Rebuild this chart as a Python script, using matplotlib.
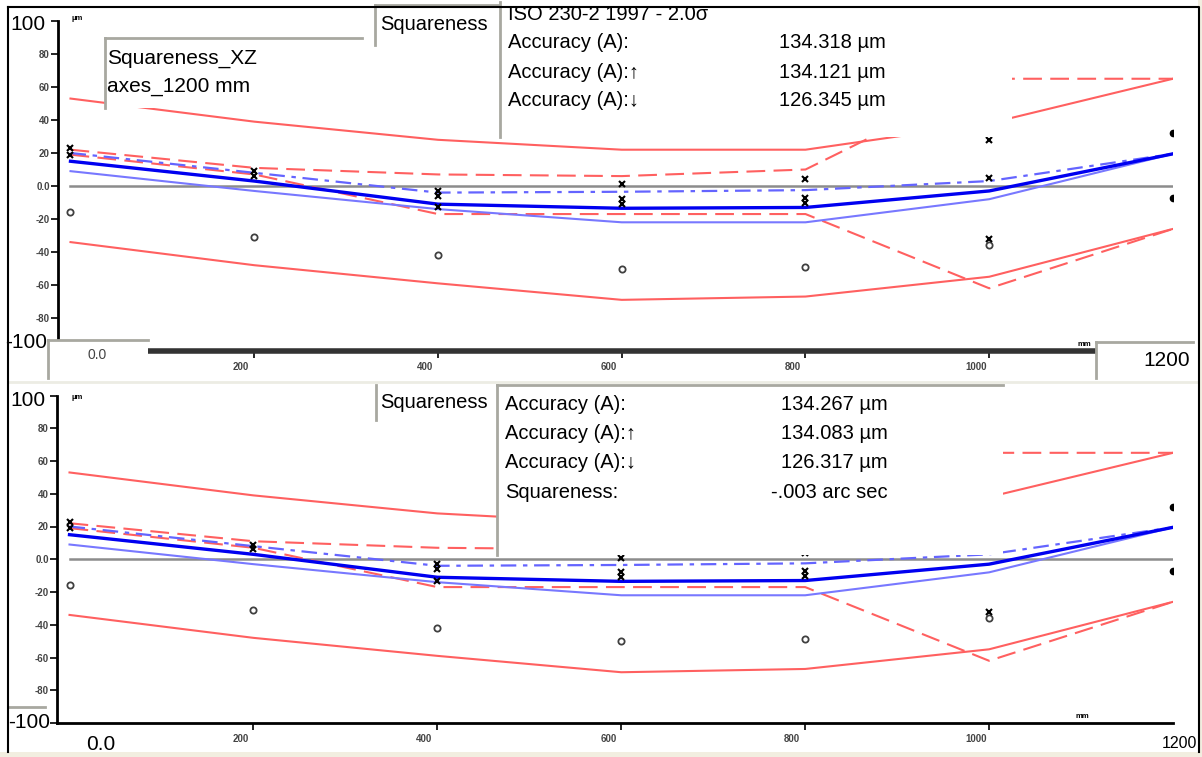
import matplotlib
matplotlib.use("Agg")
import matplotlib.pyplot as plt
import matplotlib.transforms as mtransforms
from matplotlib.patches import Rectangle
from matplotlib.lines import Line2D

plt.rcParams['font.family'] = ['Liberation Sans', 'DejaVu Sans']

# ----------------------
# data (µm against position in mm)
# ----------------------
positions = [0, 200, 400, 600, 800, 1000, 1200]

upper_limit = [53, 39, 28, 22, 22, 38, 65]          # red solid, top
lower_limit = [-34, -48, -59, -69, -67, -55, -26]   # red solid, bottom
upper_dash = [22, 11, 7, 6, 10, 65, 65]             # red dashed, top
lower_dash = [19, 7, -17, -17, -17, -62, -26]       # red dashed, bottom
mean_line = [15, 3, -11, -13.5, -13, -3, 19.5]     # blue thick
mean_low = [9, -3, -14, -22, -22, -8, 19.5]         # light blue
mean_high = [20, 8, -4, -3.5, -2.5, 3, 19.5]        # blue dash-dot

run_x = [0, 0, 200, 200, 400, 400, 400, 600, 600, 600, 800, 800, 800, 1000, 1000, 1000]
run_y = [19, 23, 6, 9, -3, -6, -13, 1, -8, -11, 4, -7, -10, 28, 5, -32]
circ_x = [0, 200, 400, 600, 800, 1000]
circ_y = [-16, -31, -42, -50, -49, -36]
end_x = [1200, 1200]
end_y = [32, -7]

tick_pos = [200, 400, 600, 800, 1000]
tick_lbl = ["200", "400", "600", "800", "1000"]
ytick_pos = [-100, -80, -60, -40, -20, 0, 20, 40, 60, 80, 100]
ytick_lbl = ["", "-80", "-60", "-40", "-20", "0.0", "20", "40", "60", "80", ""]

top_info = ["ISO 230-2 1997 - 2.0\u03c3", "Accuracy (A):", "Accuracy (A):\u2191", "Accuracy (A):\u2193"]
top_vals = ["", "134.318 \u00b5m", "134.121 \u00b5m", "126.345 \u00b5m"]
bot_info = ["Accuracy (A):", "Accuracy (A):\u2191", "Accuracy (A):\u2193", "Squareness:"]
bot_vals = ["134.267 \u00b5m", "134.083 \u00b5m", "126.317 \u00b5m", "-.003 arc sec"]

W, H = 1202, 757
fig = plt.figure(figsize=(W / 100, H / 100), dpi=100)


def fx(x):
    return x / W


def fy(y):
    return 1 - y / H


def ftext(x, y, s, size, **kw):
    kw.setdefault("va", "center")
    fig.text(fx(x), fy(y), s, fontsize=size, zorder=8, **kw)


def box(x0, y0, x1, y1, top=True, left=True):
    fig.add_artist(Rectangle((fx(x0), fy(y1)), (x1 - x0) / W, (y1 - y0) / H,
                             transform=fig.transFigure, facecolor="white",
                             edgecolor="none", zorder=5))
    if top:
        fig.add_artist(Line2D([fx(x0), fx(x1)], [fy(y0), fy(y0)], color="#a8a8a0", lw=2, zorder=6))
    if left:
        fig.add_artist(Line2D([fx(x0), fx(x0)], [fy(y0), fy(y1)], color="#a8a8a0", lw=2, zorder=6))


def draw_panel(left, top, right, bottom, axis_lw, axis_col):
    ax = fig.add_axes([fx(left), fy(bottom), (right - left) / W, (bottom - top) / H])
    ax.set_xlim(-13.6, 1200)
    ax.set_ylim(-100, 100)
    ax.patch.set_alpha(0)
    for s in ["top", "right"]:
        ax.spines[s].set_visible(False)
    ax.spines["bottom"].set_linewidth(axis_lw)
    ax.spines["bottom"].set_color(axis_col)
    ax.spines["left"].set_linewidth(2)

    ax.plot(positions, [0] * len(positions), color="#8c8c8c", lw=1.8)
    ax.plot(positions, upper_limit, color="#ff6060", lw=1.5)
    ax.plot(positions, lower_limit, color="#ff6060", lw=1.5)
    ax.plot(positions, upper_dash, color="#ff6060", lw=1.5, dashes=(9, 4))
    ax.plot(positions, lower_dash, color="#ff6060", lw=1.5, dashes=(9, 4))
    ax.plot(positions, mean_low, color="#7878ff", lw=1.5)
    ax.plot(positions, mean_high, color="#6464ff", lw=1.6, dashes=(7, 3, 2, 3))
    ax.plot(positions, mean_line, color="#0000f0", lw=2.4)

    ax.plot(circ_x, circ_y, "o", ms=4.5, mfc="none", mec="#404040", mew=1.3)
    ax.plot(run_x, run_y, "x", ms=4, color="black", mew=1.5)
    ax.plot(end_x, end_y, "o", ms=4.5, color="black")

    ax.set_xticks(tick_pos)
    ax.set_xticklabels(tick_lbl, fontsize=7, color="#444444", weight="bold")
    ax.set_yticks(ytick_pos)
    ax.set_yticklabels(ytick_lbl, fontsize=7, color="#444444", weight="bold")
    ax.tick_params(axis="x", length=5, width=1.2, pad=3)
    ax.tick_params(axis="y", length=5, width=1.2, pad=1)
    offset = mtransforms.ScaledTranslation(-0.13, 0, fig.dpi_scale_trans)
    for lab in ax.get_xticklabels():
        lab.set_transform(lab.get_transform() + offset)
    return ax


# ----------------------
# top panel
# ----------------------
ax1 = draw_panel(58, 21, 1173, 351, 4, "#333333")
ftext(10, 25, "100", 15)
ftext(5, 343, "-100", 15)
ftext(72, 18, "\u00b5m", 5.5, weight="bold")
ftext(1078, 344, "mm", 5.5, weight="bold")

box(105, 38, 362, 108)
ftext(107, 58, "Squareness_XZ", 15)
ftext(107, 86, "axes_1200 mm", 15)

box(375, 5, 498, 45)
ftext(380, 25, "Squareness", 14.5)

box(500, 2, 1012, 137, top=False)
for i, (t, v) in enumerate(zip(top_info, top_vals)):
    ftext(508, 14 + 29 * i, t, 14.5)
    if v:
        ftext(886, 14 + 29 * i, v, 14.5, ha="right")

box(48, 340, 148, 378)
ftext(97, 355, "0.0", 10, ha="center", color="#444444")
box(1096, 342, 1193, 378)
ftext(1190, 360, "1200", 15, ha="right")

fig.add_artist(Line2D([fx(8), fx(1198)], [fy(382), fy(382)], color="#ecece4", lw=2, zorder=6))

# ----------------------
# bottom panel
# ----------------------
ax2 = draw_panel(57, 395.5, 1173, 723, 2, "black")
ftext(10, 401, "100", 15)
ftext(8, 722, "-100", 15)
fig.add_artist(Line2D([fx(8), fx(45)], [fy(707), fy(707)], color="#a8a8a0", lw=2, zorder=6))
ftext(72, 398, "\u00b5m", 5.5, weight="bold")
ftext(1076, 716, "mm", 5.5, weight="bold")

box(376, 385, 492, 420, top=False)
ftext(380, 402, "Squareness", 14.5)

box(497, 385, 1003, 555)
for i, (t, v) in enumerate(zip(bot_info, bot_vals)):
    ftext(505, 405 + 29 * i, t, 14.5)
    ftext(888, 405 + 29 * i, v, 14.5, ha="right")

ftext(86, 745, "0.0", 15)
ftext(1162, 744, "1200", 11.5)

# screenshot frame
fig.add_artist(Rectangle((fx(0), fy(757)), 1, 5 / H, transform=fig.transFigure,
                         facecolor="#f2eee0", edgecolor="none", zorder=9))
fig.add_artist(Rectangle((fx(1198), 0), 4 / W, 1, transform=fig.transFigure,
                         facecolor="#f2eee0", edgecolor="none", zorder=9))
fig.add_artist(Line2D([fx(8), fx(1199), fx(1199)], [fy(7), fy(7), fy(752)], color="black", lw=1.5, zorder=10))
fig.add_artist(Line2D([fx(8), fx(8)], [fy(7), fy(752)], color="black", lw=1.5, zorder=10))

fig.savefig("out.png", dpi=100)
